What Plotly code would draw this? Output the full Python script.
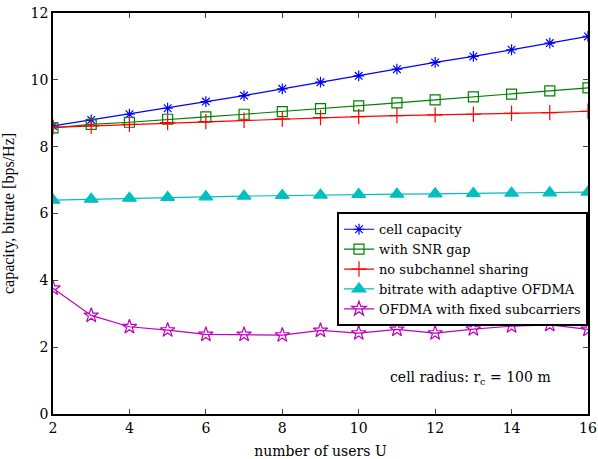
import plotly.graph_objects as go

users = list(range(2, 17))
cell_capacity = [8.62, 8.80, 8.97, 9.15, 9.35, 9.53, 9.73, 9.93, 10.12, 10.32, 10.52, 10.70, 10.90, 11.10, 11.30]
snr_gap = [8.56, 8.67, 8.73, 8.82, 8.89, 8.97, 9.05, 9.14, 9.22, 9.31, 9.40, 9.49, 9.57, 9.67, 9.76]
no_sharing = [8.58, 8.62, 8.67, 8.72, 8.75, 8.79, 8.83, 8.87, 8.90, 8.93, 8.95, 8.97, 9.00, 9.02, 9.06]
adaptive_ofdma = [6.40, 6.43, 6.46, 6.48, 6.50, 6.52, 6.54, 6.55, 6.57, 6.58, 6.59, 6.60, 6.61, 6.62, 6.64]
fixed_ofdma = [3.76, 2.95, 2.61, 2.51, 2.38, 2.38, 2.36, 2.50, 2.42, 2.53, 2.42, 2.54, 2.63, 2.67, 2.53]

x_ticks = [2, 4, 6, 8, 10, 12, 14, 16]
y_ticks = [0, 2, 4, 6, 8, 10, 12]

series = [
    ("cell capacity", cell_capacity, "#0000ff", "asterisk-open", 9),
    ("with SNR gap", snr_gap, "#008000", "square-open", 10),
    ("no subchannel sharing", no_sharing, "#ff0000", "cross-thin-open", 11),
    ("bitrate with adaptive OFDMA", adaptive_ofdma, "#00bfbf", "triangle-up", 12),
    ("OFDMA with fixed subcarriers", fixed_ofdma, "#bf00bf", "star-open", 11),
]

fig = go.Figure()
for name, vals, color, sym, size in series:
    fig.add_trace(go.Scatter(
        x=users, y=vals, name=name, mode="lines+markers",
        line=dict(color=color, width=1.2),
        marker=dict(symbol=sym, size=size, color=color, line=dict(color=color, width=1.2)),
    ))

font_family = "DejaVu Serif"
fig.update_layout(
    width=598, height=459,
    margin=dict(l=53, r=10, t=13, b=45),
    paper_bgcolor="white", plot_bgcolor="white",
    font=dict(family=font_family, size=14, color="black"),
    legend=dict(
        x=1, xanchor="right", y=0.503, yanchor="top",
        bgcolor="white", bordercolor="black", borderwidth=2,
        font=dict(family=font_family, size=13),
        tracegroupgap=0, itemwidth=30,
    ),
    annotations=[dict(
        x=12.93, y=1.07, xref="x", yref="y",
        text="cell radius: r<sub>c</sub> = 100 m", showarrow=False,
        font=dict(family=font_family, size=14),
    )],
)
fig.update_xaxes(
    range=[2, 16], tickvals=x_ticks, ticks="inside", ticklen=5,
    showline=True, linecolor="black", linewidth=1.5, mirror="ticks",
    showgrid=False, zeroline=False, automargin=False,
    tickfont=dict(family=font_family, size=14),
    title=dict(text="number of users U", font=dict(family=font_family, size=14)),
)
fig.update_yaxes(
    range=[0, 12], tickvals=y_ticks, ticks="inside", ticklen=5,
    showline=True, linecolor="black", linewidth=1.5, mirror="ticks",
    showgrid=False, zeroline=False, automargin=False,
    tickfont=dict(family=font_family, size=14),
    title=dict(text="capacity, bitrate [bps/Hz]", font=dict(family="Liberation Serif", size=16)),
)
fig.write_html("out.html", config={"displayModeBar": False},
               post_script="document.body.style.margin='0';")
